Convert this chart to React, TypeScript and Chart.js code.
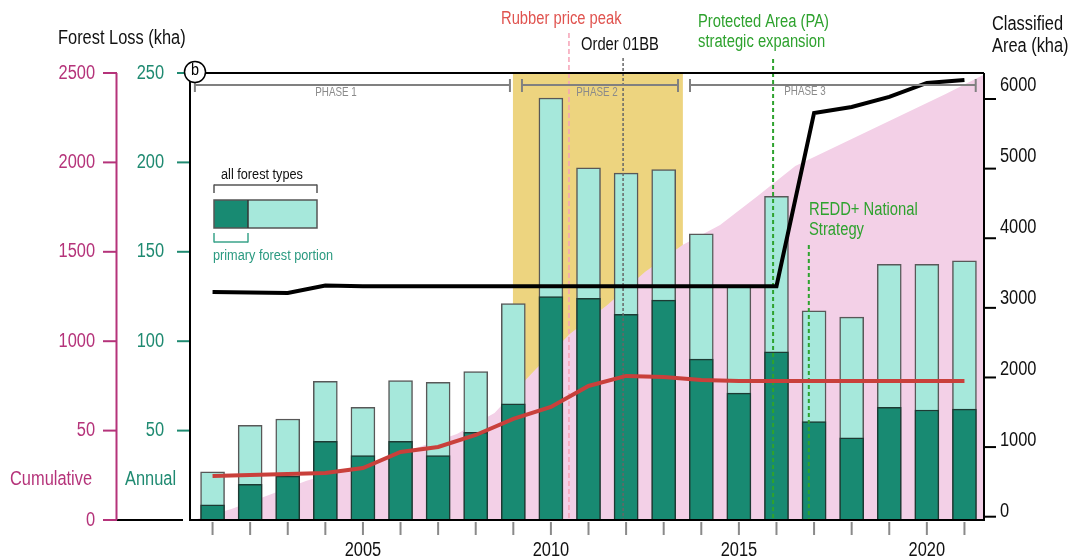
import React, { useEffect, useRef } from "react";
import { Chart, registerables } from "chart.js";

Chart.register(...registerables);

// ---------- data ----------
const years = [2001, 2002, 2003, 2004, 2005, 2006, 2007, 2008, 2009, 2010, 2011, 2012, 2013, 2014, 2015, 2016, 2017, 2018, 2019, 2020, 2021];
const totalLoss = [27, 53, 56.5, 77.5, 63, 78, 77, 83, 121, 236, 197, 194, 196, 160, 131, 181, 117, 113.5, 143, 143, 145];
const primaryLoss = [8.5, 20, 24.5, 44, 36, 44, 36, 49, 65, 125, 124, 115, 123, 90, 71, 94, 55, 46, 63, 61.5, 62];
const cumulativeYears = [2000.5, 2001.5, 2002.5, 2003.5, 2004.5, 2005.5, 2006.5, 2007.5, 2008.5, 2009.5, 2010.5, 2011.5, 2012.5, 2013.5, 2014.5, 2015.5, 2016.5, 2017.5, 2018.5, 2019.5, 2020.5, 2021.5];
const cumulativeLoss = [0, 62, 140, 220, 280, 335, 408, 481, 598, 822, 1040, 1202, 1387, 1538, 1650, 1812, 1980, 2080, 2181, 2282, 2383, 2489];
const redSeries = [585, 599, 613, 628, 700, 930, 1002, 1174, 1404, 1576, 1878, 2022, 2007, 1964, 1950, 1950, 1950, 1950, 1950, 1950, 1950];
const classifiedArea = [3228, 3221, 3214, 3320, 3310, 3310, 3310, 3310, 3310, 3310, 3310, 3310, 3310, 3310, 3310, 3310, 5800, 5886, 6030, 6231, 6274];

// ---------- axes / annotations ----------
const annualTicks = [50, 100, 150, 200, 250];
const cumulativeTicks = [0, 500, 1000, 1500, 2000, 2500];
const cumulativeTickLabels = ["0", "50", "1000", "1500", "2000", "2500"];
const areaTicks = [0, 1000, 2000, 3000, 4000, 5000, 6000];
const yearLabels = [2005, 2010, 2015, 2020];
const phaseLabels = ["PHASE 1", "PHASE 2", "PHASE 3"];
const phaseStarts = [2000.53, 2009.23, 2013.7];
const phaseEnds = [2008.91, 2013.38, 2021.3];
const phase2Band = [2008.99, 2013.51];
const eventYears = [2010.48, 2011.92, 2015.91, 2016.86];

const FONT = '"Liberation Sans", Arial, Helvetica, sans-serif';
const MAGENTA = "#b5337a";
const TEAL = "#1f8a71";
const GREEN = "#2ea22e";

function txt(ctx: CanvasRenderingContext2D, s: string, x: number, y: number, size: number, color: string, align: CanvasTextAlign = "left", squeeze = 0.82) {
  ctx.save();
  ctx.font = `${size}px ${FONT}`;
  ctx.fillStyle = color;
  ctx.textAlign = align;
  ctx.textBaseline = "middle";
  ctx.translate(x, y);
  ctx.scale(squeeze, 1);
  ctx.fillText(s, 0, 0);
  ctx.restore();
}

function line(ctx: CanvasRenderingContext2D, x0: number, y0: number, x1: number, y1: number, color: string, w: number, dash: number[] = []) {
  ctx.save();
  ctx.strokeStyle = color;
  ctx.lineWidth = w;
  ctx.setLineDash(dash);
  ctx.beginPath();
  ctx.moveTo(x0, y0);
  ctx.lineTo(x1, y1);
  ctx.stroke();
  ctx.restore();
}

const overlay = {
  id: "overlay",
  beforeDatasetsDraw(chart: any) {
    const { ctx, chartArea: a, scales } = chart;
    const x = scales.x;
    const x0 = x.getPixelForValue(phase2Band[0]);
    const x1 = x.getPixelForValue(phase2Band[1]);
    ctx.save();
    ctx.fillStyle = "#edd47f";
    ctx.fillRect(x0, a.top, x1 - x0, a.bottom - a.top);
    ctx.restore();
  },
  afterDatasetDraw(chart: any, args: any) {
    if (args.index !== 2) return;
    const { ctx, chartArea: a, scales } = chart;
    const x = scales.x;
    const b = a.bottom;
    const px = eventYears.map((v) => x.getPixelForValue(v));
    line(ctx, px[0], 33, px[0], b, "#f5a2b6", 1.5, [5, 3]);
    line(ctx, px[1], 58, px[1], b, "#666666", 1.5, [3, 2]);
    line(ctx, px[2], 59, px[2], b, GREEN, 2, [4, 3]);
    line(ctx, px[3], 245, px[3], b, GREEN, 2, [4, 3]);
  },
  afterDraw(chart: any) {
    const { ctx, chartArea: a, scales } = chart;
    const { x, yA, yC, yR } = scales;
    ctx.save();

    // phase brackets
    for (let i = 0; i < phaseLabels.length; i++) {
      const s = x.getPixelForValue(phaseStarts[i]);
      const e = x.getPixelForValue(phaseEnds[i]);
      line(ctx, s, 85, e, 85, "#808080", 2);
      line(ctx, s, 79, s, 92, "#808080", 2);
      line(ctx, e, 79, e, 92, "#808080", 2);
    }
    txt(ctx, phaseLabels[0], 336, 93, 12, "#8a8a8a", "center");
    txt(ctx, phaseLabels[1], 597, 93, 12, "#8a8a8a", "center");
    txt(ctx, phaseLabels[2], 805, 92, 12, "#8a8a8a", "center");

    // frame
    line(ctx, a.left, a.top, a.right, a.top, "#000", 2);
    line(ctx, a.left, a.top, a.left, a.bottom, "#000", 2);
    line(ctx, a.right, a.top, a.right, a.bottom + 1, "#000", 2);
    line(ctx, a.left - 1, a.bottom, a.right + 1, a.bottom, "#000", 2);
    line(ctx, 117, a.bottom, 183, a.bottom, "#000", 2);

    // cumulative axis
    line(ctx, 116.5, yC.getPixelForValue(2500), 116.5, a.bottom, MAGENTA, 2);
    cumulativeTicks.forEach((v, i) => {
      const y = yC.getPixelForValue(v);
      line(ctx, 103, y, 117, y, MAGENTA, 2);
      txt(ctx, cumulativeTickLabels[i], 95, y, 20, MAGENTA, "right");
    });
    // annual axis
    annualTicks.forEach((v) => {
      const y = yA.getPixelForValue(v);
      line(ctx, 177, y, 189, y, TEAL, 2);
      txt(ctx, String(v), 164, y, 20, TEAL, "right");
    });
    // right axis
    areaTicks.forEach((v) => {
      const y = yR.getPixelForValue(v);
      line(ctx, a.right, y, a.right + 12, y, "#000", 2);
      txt(ctx, String(v), 1000, y - 5 - v * 0.0014, 20, "#111", "left");
    });
    // x axis
    years.forEach((yr) => {
      const px = x.getPixelForValue(yr);
      line(ctx, px, a.bottom + 2, px, a.bottom + 15, "#8a8a8a", 2);
    });
    yearLabels.forEach((yr) => {
      txt(ctx, String(yr), x.getPixelForValue(yr), 550, 20, "#111", "center");
    });

    // titles
    txt(ctx, "Forest Loss (kha)", 58, 38, 20, "#111");
    txt(ctx, "Cumulative", 10, 479, 20, MAGENTA);
    txt(ctx, "Annual", 125, 479, 20, TEAL);
    txt(ctx, "Classified", 992, 24, 20, "#111");
    txt(ctx, "Area (kha)", 992, 46, 20, "#111");

    // event annotations
    txt(ctx, "Rubber price peak", 501, 19, 18, "#e0534f");
    txt(ctx, "Order 01BB", 581, 45, 18, "#111");
    txt(ctx, "Protected Area (PA)", 698, 22, 18, GREEN);
    txt(ctx, "strategic expansion", 698, 42, 18, GREEN);
    txt(ctx, "REDD+ National", 809, 210, 18, GREEN);
    txt(ctx, "Strategy", 809, 230, 18, GREEN);

    // legend
    txt(ctx, "all forest types", 221, 175, 15.5, "#111");
    line(ctx, 214, 185, 317, 185, "#555", 1.5);
    line(ctx, 214, 184.5, 214, 193, "#555", 1.5);
    line(ctx, 317, 184.5, 317, 193, "#555", 1.5);
    ctx.fillStyle = "#188a72";
    ctx.fillRect(214, 200, 34, 28);
    ctx.fillStyle = "#a6e8db";
    ctx.fillRect(248, 200, 69, 28);
    ctx.strokeStyle = "#555";
    ctx.lineWidth = 1.5;
    ctx.strokeRect(214, 200, 103, 28);
    line(ctx, 248, 200, 248, 228, "#333", 1.5);
    line(ctx, 214, 242, 248, 242, "#3aa38a", 1.5);
    line(ctx, 214, 233, 214, 242.5, "#3aa38a", 1.5);
    line(ctx, 248, 233, 248, 242.5, "#3aa38a", 1.5);
    txt(ctx, "primary forest portion", 213, 256, 15.5, "#2a9a80");

    // panel marker
    ctx.beginPath();
    ctx.arc(195, 72, 10.5, 0, Math.PI * 2);
    ctx.fillStyle = "#fff";
    ctx.fill();
    ctx.strokeStyle = "#000";
    ctx.lineWidth = 1.5;
    ctx.stroke();
    txt(ctx, "b", 195, 71, 16, "#000", "center", 0.9);

    ctx.restore();
  },
};

export default function App() {
  const ref = useRef<HTMLCanvasElement | null>(null);
  useEffect(() => {
    if (!ref.current) return;
    const chart = new Chart(ref.current, {
      type: "bar",
      data: {
        datasets: [
          {
            type: "line",
            label: "Cumulative",
            data: cumulativeYears.map((v, i) => ({ x: v, y: cumulativeLoss[i] })),
            yAxisID: "yC",
            fill: "origin",
            backgroundColor: "#f3d0e7",
            borderWidth: 0,
            pointRadius: 0,
            tension: 0,
            order: 10,
          } as any,
          {
            type: "bar",
            label: "All forest types",
            data: years.map((v, i) => ({ x: v, y: totalLoss[i] })),
            yAxisID: "yA",
            backgroundColor: "#a6e8db",
            borderColor: "#585858",
            borderWidth: 1.5,
            barThickness: 24,
            grouped: false,
            order: 8,
          } as any,
          {
            type: "bar",
            label: "Primary forest",
            data: years.map((v, i) => ({ x: v, y: primaryLoss[i] })),
            yAxisID: "yA",
            backgroundColor: "#188a72",
            borderColor: "#1d3a33",
            borderWidth: 1.5,
            barThickness: 24,
            grouped: false,
            order: 7,
          } as any,
          {
            type: "line",
            label: "Red",
            data: years.map((v, i) => ({ x: v, y: redSeries[i] })),
            yAxisID: "yR",
            borderColor: "#c9403b",
            borderWidth: 4,
            pointRadius: 0,
            fill: false,
            tension: 0,
            order: 2,
          } as any,
          {
            type: "line",
            label: "Classified Area",
            data: years.map((v, i) => ({ x: v, y: classifiedArea[i] })),
            yAxisID: "yR",
            borderColor: "#000",
            borderWidth: 4,
            pointRadius: 0,
            fill: false,
            tension: 0,
            order: 1,
          } as any,
        ],
      },
      options: {
        responsive: false,
        animation: false,
        devicePixelRatio: 1,
        events: [],
        layout: { padding: { left: 190, right: 92, top: 73, bottom: 40 } },
        plugins: { legend: { display: false }, tooltip: { enabled: false } },
        scales: {
          x: { type: "linear", min: 2000.4, max: 2021.52, display: false, offset: false },
          yA: { type: "linear", min: 0, max: 250, display: false },
          yC: { type: "linear", min: 0, max: 2500, display: false },
          yR: { type: "linear", min: -47.4, max: 6373.6, display: false },
        },
      } as any,
      plugins: [overlay],
    });
    return () => chart.destroy();
  }, []);
  return (
    <div style={{ position: "fixed", left: 0, top: 0, width: 1076, height: 560, background: "#fff" }}>
      <canvas ref={ref} width={1076} height={560} style={{ display: "block" }} />
    </div>
  );
}
